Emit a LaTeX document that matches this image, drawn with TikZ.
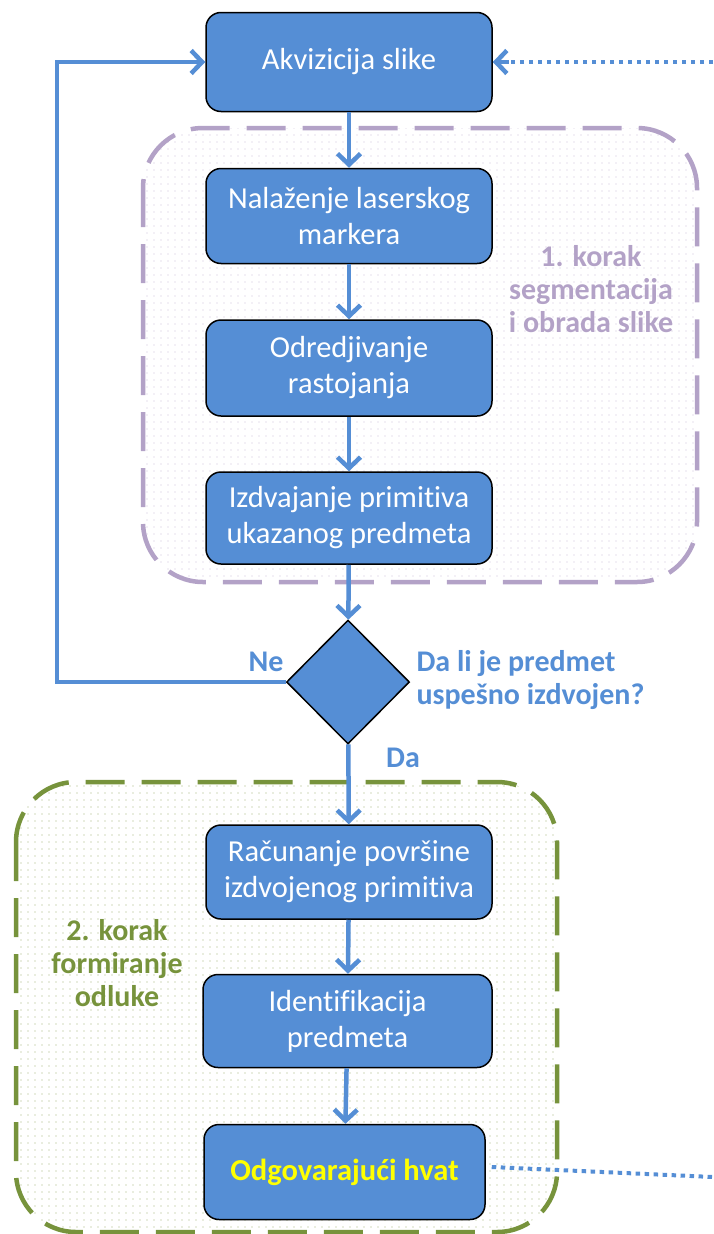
\documentclass[tikz,border=0pt]{standalone}
\usepackage{fontspec}
\setmainfont[Ligatures=NoCommon]{Carlito}
\usetikzlibrary{arrows.meta,shapes.geometric,patterns.meta}
\definecolor{boxblue}{HTML}{558ED5}
\definecolor{lineblue}{HTML}{558ED5}
\definecolor{regpurple}{HTML}{B3A2C7}
\definecolor{reggreen}{HTML}{77933C}
\definecolor{hyellow}{HTML}{FFFF00}
\tikzset{
  box/.style={draw=black, line width=1.5pt, fill=boxblue, rounded corners=15pt,
    minimum width=286pt, text=white, align=center, inner sep=0pt,
    font=\fontsize{30.5}{36}\selectfont},
  decision/.style={diamond, draw=black, line width=1.5pt, fill=boxblue,
    minimum width=123pt, minimum height=124pt, inner sep=0pt},
  conn/.style={draw=lineblue, line width=4.5pt, -{Straight Barb[length=11pt,width=23pt,line width=4.5pt]}},
  plainconn/.style={draw=lineblue, line width=4.5pt},
  dotconn/.style={draw=lineblue, line width=4pt, dash pattern=on 4.5pt off 4.5pt},
  region/.style={line width=4.5pt, dash pattern=on 39pt off 17pt, rounded corners=60pt},
  lbl/.style={font=\bfseries\fontsize{30}{33}\selectfont, align=center},
}
\begin{document}
\begin{tikzpicture}[x=1pt,y=-1pt]
\useasboundingbox (0,0) rectangle (713,1234);
% regions
\draw[region, draw=regpurple, pattern={Dots[distance=7pt,radius=0.7pt]}, pattern color=regpurple!70] (143,128) rectangle (697,582);
\draw[region, draw=reggreen, pattern={Dots[distance=7pt,radius=0.7pt]}, pattern color=reggreen!70] (16,782) rectangle (557,1232);
% region labels
\node[lbl, text=regpurple] (lab1) at (591,289) {1. korak\\segmentacija\\i obrada slike};
\node[lbl, text=reggreen] (lab2) at (117,963) {2. korak\\formiranje\\odluke};
% boxes
\node[box, minimum height=99pt] (A) at (349,62) {Akvizicija slike};
\node[box, minimum height=95pt] (B) at (349,216) {Nalaženje laserskog\\markera};
\node[box, minimum height=96pt] (C) at (349,368) {Odredjivanje\\rastojanja};
\node[box, minimum height=92pt] (D) at (349,518) {Izdvajanje primitiva\\ukazanog predmeta};
\node[decision] (Q) at (348,682) {};
\node[box, minimum height=94pt] (E) at (349,872) {Računanje površine\\izdvojenog primitiva};
\node[box, minimum height=93pt, minimum width=289pt] (F) at (347.5,1021) {Identifikacija\\predmeta};
\node[box, minimum height=95pt, minimum width=281pt, text=hyellow, font=\bfseries\fontsize{30.5}{36}\selectfont] (G) at (344.5,1172) {Odgovarajući hvat};
% decision labels
\node[lbl, text=lineblue] (ne) at (266,662) {Ne};
\node[lbl, text=lineblue] (da) at (403,758) {Da};
\node[lbl, text=lineblue, align=left, anchor=west] (qt) at (413,680) {Da li je predmet\\uspešno izdvojen?};
% connectors
\draw[conn] (A) -- (B);
\draw[conn] (B) -- (C);
\draw[conn] (C) -- (D);
\draw[conn] (D) -- (Q);
\draw[conn] (Q) -- (E);
\draw[conn] (E) -- (F);
\draw[conn] (F) -- (G);
\coordinate (lc) at (57,682);
\draw[conn] (Q.west) -- (lc) |- (A.west);
\coordinate (rin) at (713,62);
\draw[dotconn] (rin) -- ([xshift=14pt]A.east);
\draw[plainconn, -{Straight Barb[length=11pt,width=23pt,line width=4.5pt]}] ([xshift=16pt]A.east) -- (A.east);
\coordinate (rout) at (713,1177);
\draw[dotconn] ([yshift=5pt]G.east) ++(6pt,0) -- (rout);
\end{tikzpicture}
\end{document}
